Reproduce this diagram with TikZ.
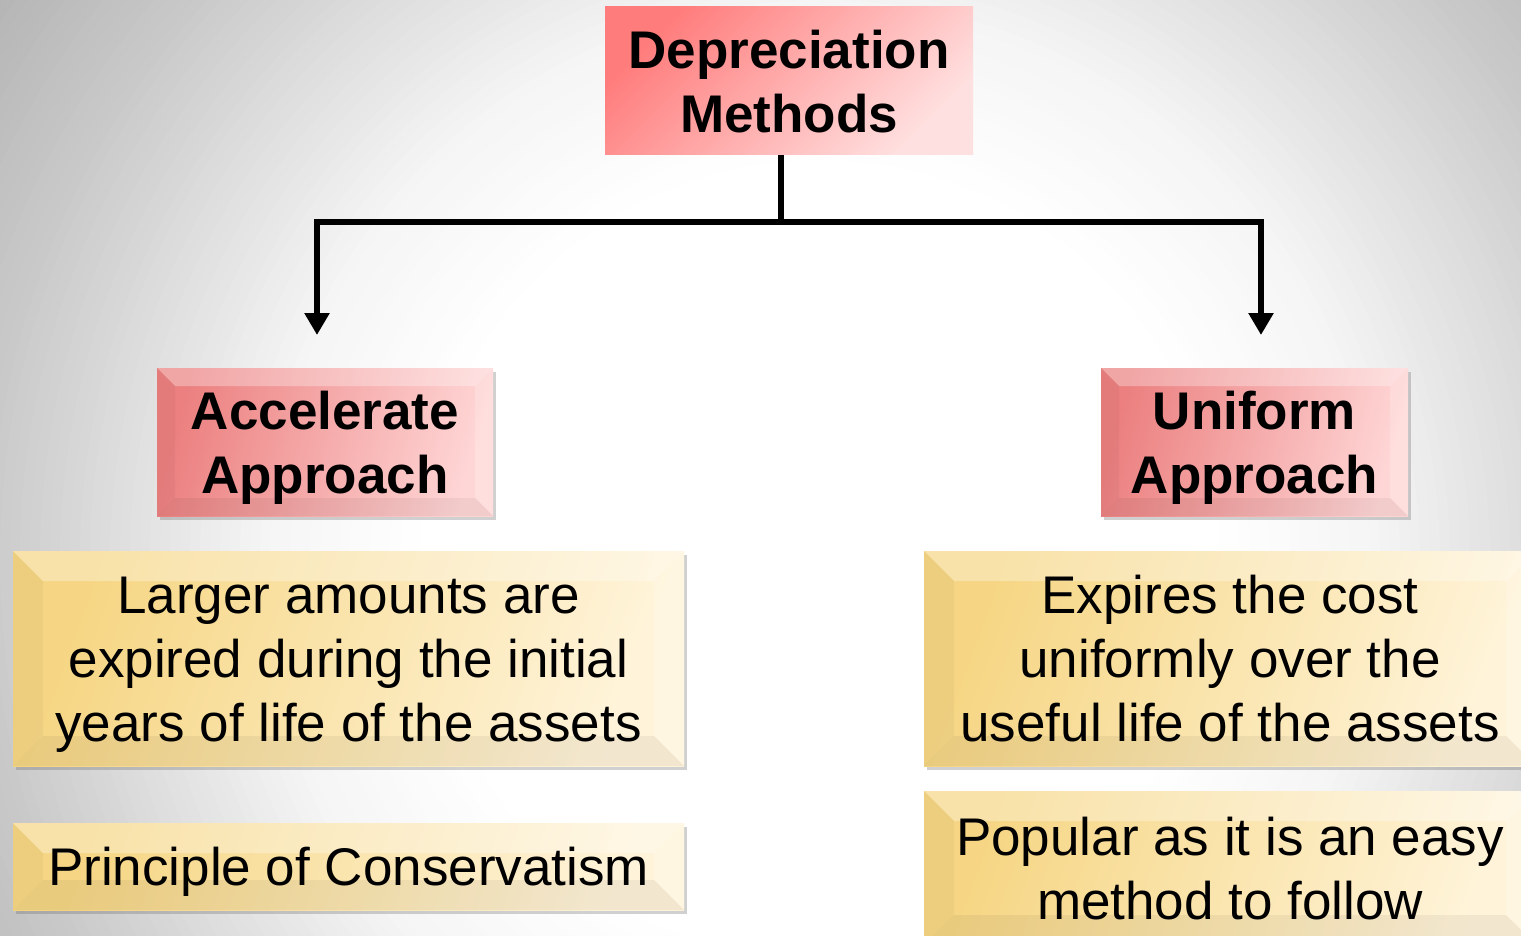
\documentclass[tikz,border=0pt]{standalone}
\usepackage{fontspec}
\setmainfont{Liberation Sans}
\usetikzlibrary{arrows.meta,shadows}
\definecolor{depA}{RGB}{255,124,124}
\definecolor{depB}{RGB}{255,224,224}
\definecolor{pinkL}{RGB}{236,128,128}
\definecolor{pinkR}{RGB}{255,214,214}
\definecolor{yelL}{RGB}{246,214,132}
\definecolor{yelR}{RGB}{255,244,218}
\newcommand\toprow{\rule{0pt}{57.6pt}}
\newcommand\botrow{\rule[-19.2pt]{0pt}{19.2pt}}
\newcommand\onerow{\rule[-19.2pt]{0pt}{76.8pt}}
\tikzset{
  txt/.style={font=\fontsize{53}{64}\selectfont, align=center, text=black, inner sep=0pt},
  bev/.style={path picture={
    \path (path picture bounding box.north west) coordinate (pNW)
          (path picture bounding box.north east) coordinate (pNE)
          (path picture bounding box.south west) coordinate (pSW)
          (path picture bounding box.south east) coordinate (pSE);
    \fill[white,opacity=.30] (pNW) -- (pNE) -- ([shift={(-#1,-#1)}]pNE) -- ([shift={(#1,-#1)}]pNW) -- cycle;
    \fill[black,opacity=.035] (pNW) -- (pSW) -- ([shift={(#1,#1)}]pSW) -- ([shift={(#1,-#1)}]pNW) -- cycle;
    \fill[white,opacity=.20] (pNE) -- (pSE) -- ([shift={(-#1,#1)}]pSE) -- ([shift={(-#1,-#1)}]pNE) -- cycle;
    \fill[black,opacity=.05] (pSW) -- (pSE) -- ([shift={(-#1,#1)}]pSE) -- ([shift={(#1,#1)}]pSW) -- cycle;
  }},
  shad/.style={drop shadow={shadow xshift=3pt, shadow yshift=-4pt, opacity=.30, fill=black!60}},
  topbox/.style={txt, font=\fontsize{53}{64}\selectfont\bfseries, rectangle, left color=depA, right color=depB, shading angle=45},
  pinkbox/.style={txt, font=\fontsize{53}{64}\selectfont\bfseries, rectangle, shad, left color=pinkL, right color=pinkR, shading angle=75, bev=18pt},
  yelbox/.style={txt, rectangle, shad, left color=yelL, right color=yelR, shading angle=70, bev=30pt},
  conn/.style={line width=6pt, black},
  arr/.style={conn, -{Triangle[width=24pt,length=22pt]}}
}
\begin{document}
\begin{tikzpicture}[x=1pt,y=-1pt]
\clip (0,0) rectangle (1521,936);
\fill[black!30] (0,0) rectangle (1521,936);
\foreach \r in {1040,1030,...,380}{
  \pgfmathsetmacro\lv{\r>840 ? 21+(\r-840)*8/160 : (\r>560 ? 4+(\r-560)*17/280 : max(0,(\r-400)*4/160))}
  \fill[black!\lv!white] (820,560) circle (\r);
}

\node[topbox, minimum width=368pt, minimum height=148pt] (dep) at (789,81) {\toprow Depreciation\\Methods\botrow};
\node[pinkbox, minimum width=336pt, minimum height=148pt] (acc) at (325,442) {\toprow Accelerate\\Approach\botrow};
\node[pinkbox, minimum width=307pt, minimum height=148pt] (uni) at (1254.5,442) {\toprow Uniform\\Approach\botrow};
\node[yelbox, minimum width=671pt, minimum height=215pt] (larger) at (348.5,658.5) {\toprow Larger amounts are\\expired during the initial\\years of life of the assets\botrow};
\node[yelbox, minimum width=671pt, minimum height=87pt] (princ) at (348.5,866.5) {\onerow Principle of Conservatism};
\node[yelbox, minimum width=612pt, minimum height=215pt] (exp) at (1230,658.5) {\toprow Expires the cost\\uniformly over the\\useful life of the assets\botrow};
\node[yelbox, minimum width=612pt, minimum height=154pt] (pop) at (1230,868) {\toprow Popular as it is an easy\\method to follow\botrow};

\coordinate (junc) at (781,222);
\coordinate (accin) at (317,335);
\coordinate (uniin) at (1261,335);
\draw[conn] (junc |- dep.south) -- (junc);
\draw[arr] ([xshift=3pt]junc) -| (accin);
\draw[arr] ([xshift=-3pt]junc) -| (uniin);
\end{tikzpicture}
\end{document}
